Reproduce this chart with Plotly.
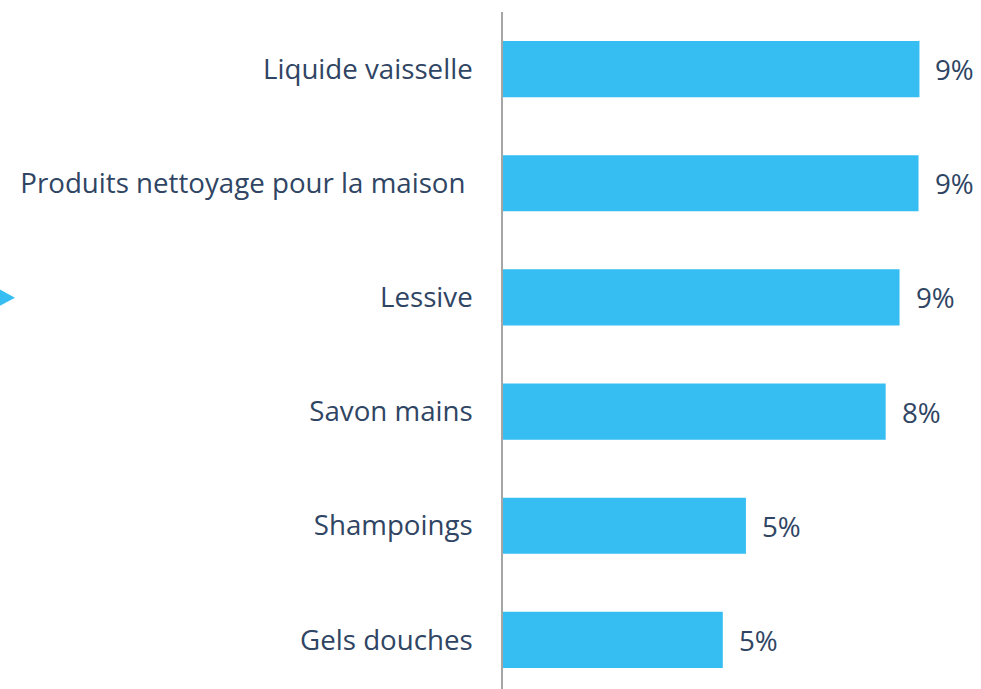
import plotly.graph_objects as go

categories = ["Liquide vaisselle", "Produits nettoyage pour la maison ", "Lessive",
              "Savon mains", "Shampoings", "Gels douches"]
values = [9.0, 8.98, 8.57, 8.27, 5.25, 4.75]
bar_color = "#36BEF2"
text_color = "#2F4563"
font_family = "Open Sans"
font_size = 27.7

fig = go.Figure()
fig.add_trace(go.Bar(
    x=values, y=categories, orientation="h",
    marker=dict(color=bar_color, line=dict(width=0)),
    hoverinfo="skip",
))

for v, c in zip(values, categories):
    fig.add_annotation(x=v, y=c, xref="x", yref="y", text=f"{round(v):.0f}%",
                       showarrow=False, xanchor="left", yanchor="middle", xshift=14,
                       font=dict(family=font_family, size=font_size, color=text_color))

# Small blue marker on the left edge
fig.add_shape(type="path", xref="paper", yref="paper",
              path="M -1.06 0.593 L -1.021 0.578 L -1.06 0.563 Z",
              fillcolor=bar_color, line=dict(width=0))

fig.update_layout(
    width=981, height=689,
    margin=dict(l=503, r=0, t=12, b=0),
    paper_bgcolor="white", plot_bgcolor="white",
    bargap=0.508,
    showlegend=False,
    font=dict(family=font_family, size=font_size, color=text_color),
    xaxis=dict(range=[0, 10.33], visible=False, fixedrange=True),
    yaxis=dict(
        categoryorder="array", categoryarray=categories,
        range=[5.43, -0.5],
        showline=True, linecolor="#A6A6A6", linewidth=1.5,
        showgrid=False, zeroline=False, ticks="",
        ticklabelstandoff=23,
        tickfont=dict(family=font_family, size=font_size, color=text_color),
    ),
)

fig.write_html("out.html")
